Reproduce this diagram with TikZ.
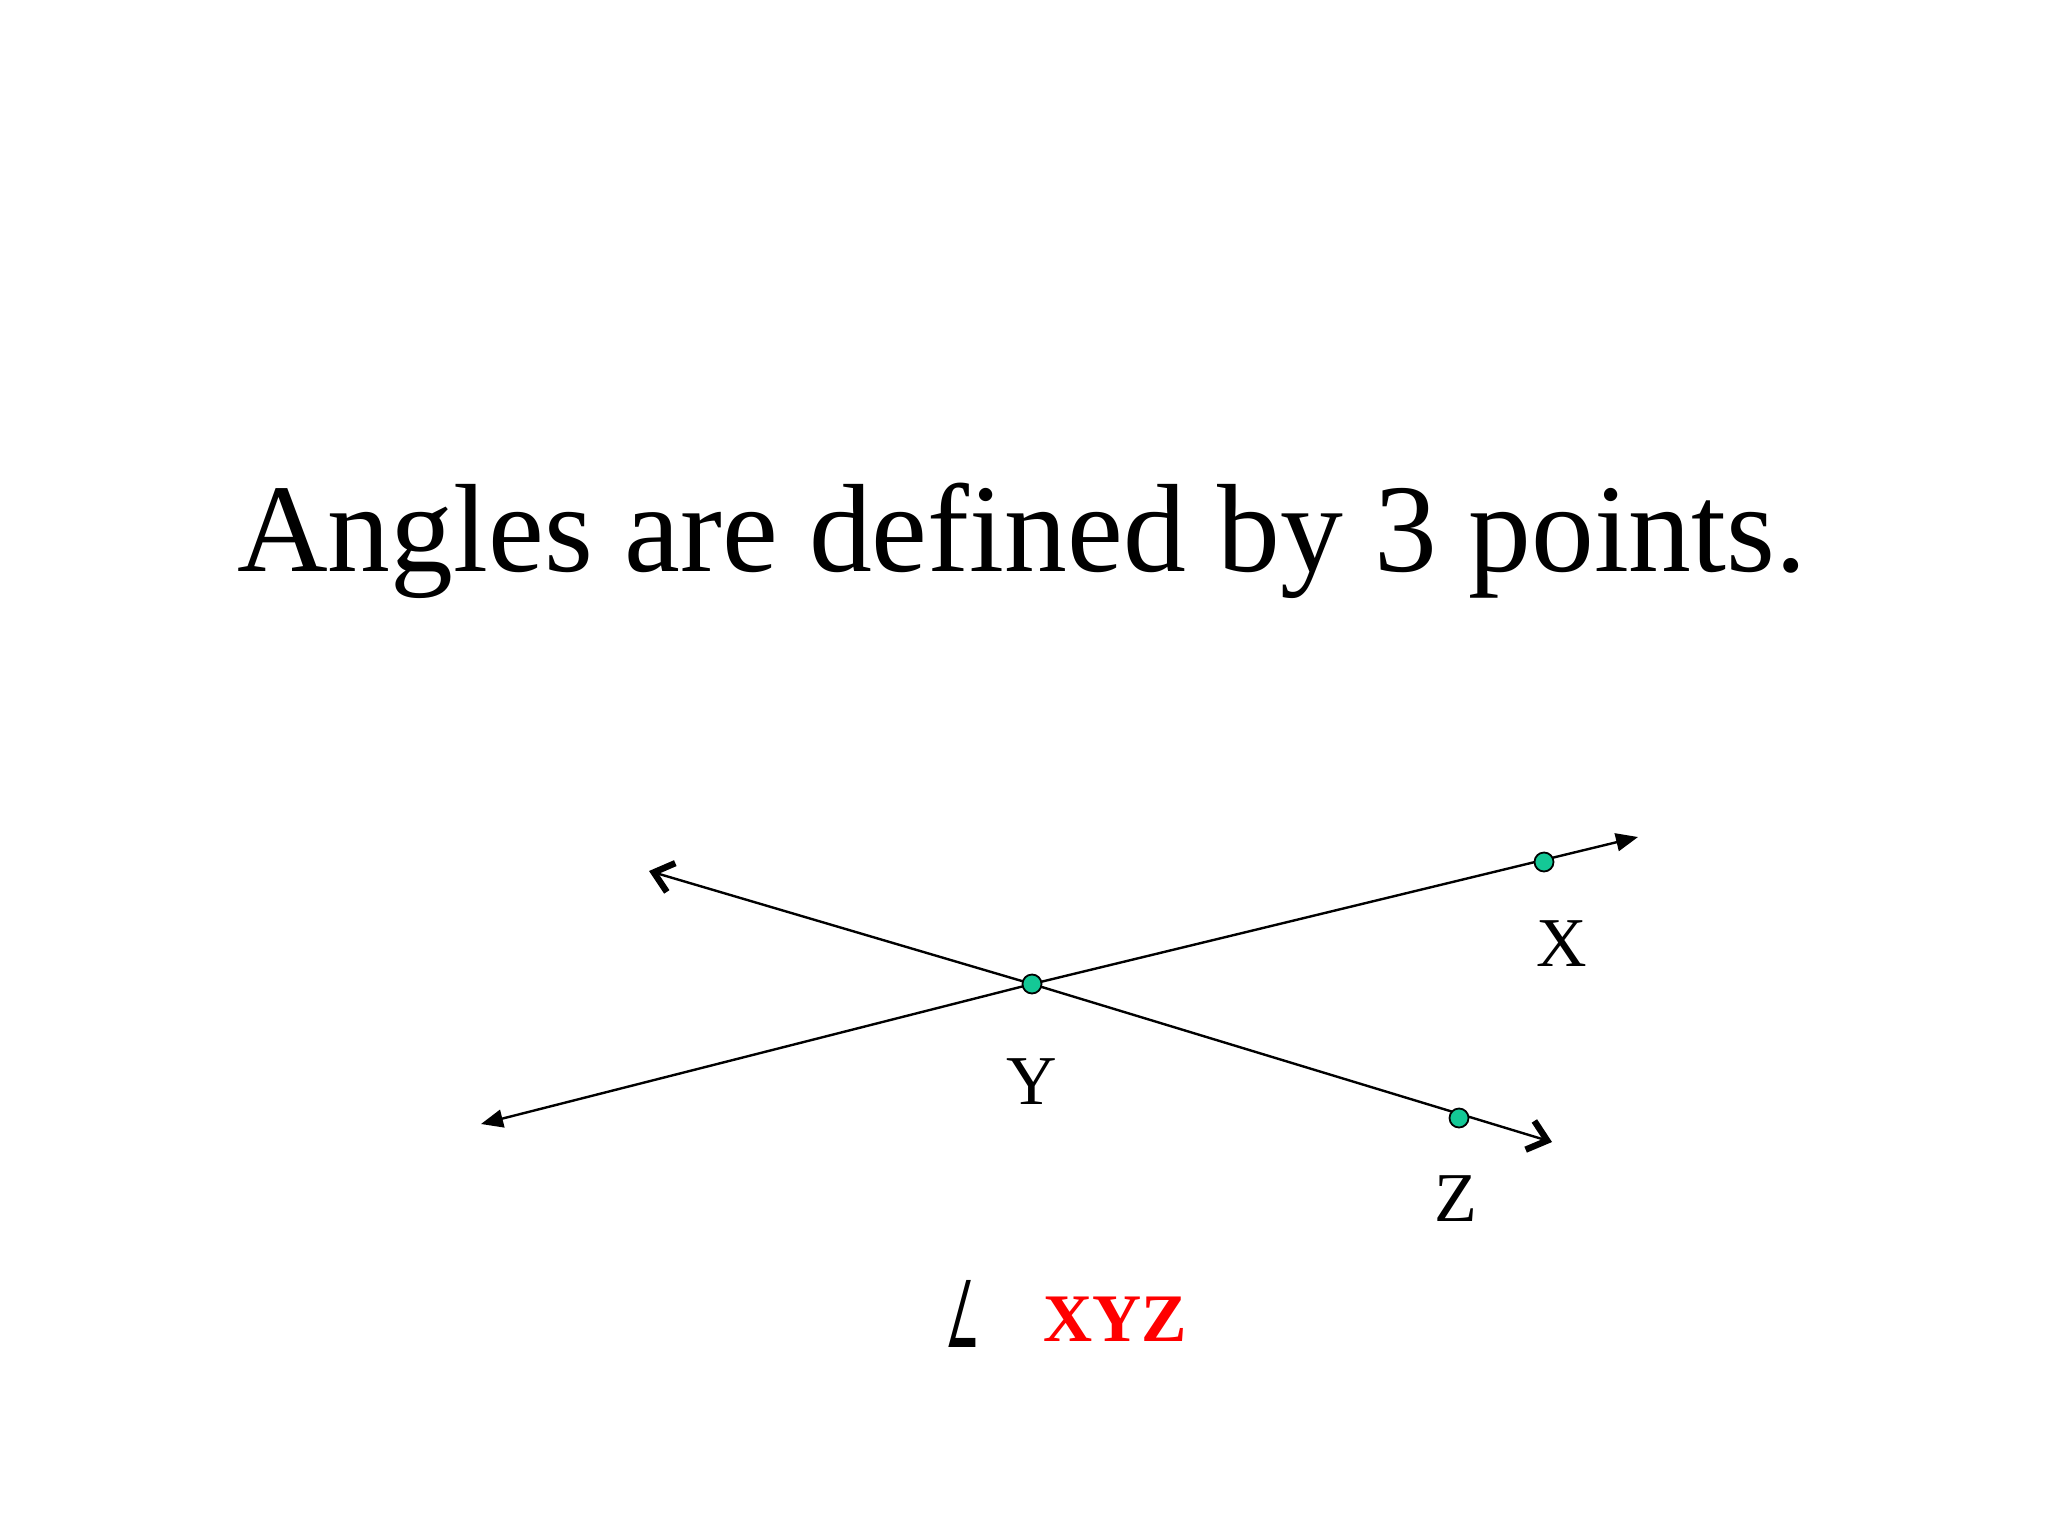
\documentclass[tikz,border=0pt]{standalone}
\usepackage{fontspec}
\setmainfont{Liberation Serif}
\newfontfamily\symfont{DejaVu Sans}
\usetikzlibrary{arrows.meta}
\definecolor{ptgreen}{RGB}{20,200,150}
\definecolor{xyzred}{RGB}{255,0,0}
\tikzset{
  ray/.style={line width=1.2pt, black},
  pt/.style={circle, draw=black, line width=0.9pt, fill=ptgreen, minimum size=9.5pt, inner sep=0pt},
  lbl/.style={inner sep=0pt, anchor=base, font=\fontsize{35}{40}\selectfont},
  openhead/.style={-{Straight Barb[length=9pt,width=15pt,line width=3.2pt]}},
  filledhead/.style={-{Triangle[length=11pt,width=9pt]}}
}
\begin{document}
\begin{tikzpicture}[x=0.5pt,y=-0.5pt]
\useasboundingbox (0,0) rectangle (2048,1536);
\node[inner sep=0pt, anchor=base, font=\fontsize{62.8}{70}\selectfont] (title) at (1022,571) {Angles are defined by 3 points.};
% points
\coordinate (Yc) at (1032,984);
\coordinate (Xc) at (1544,862);
\coordinate (Zc) at (1459,1118);
\coordinate (L1a) at (481,1124);
\coordinate (L1b) at (1638,837);
\coordinate (L2a) at (649,871);
\coordinate (L2b) at (1552,1142);
\draw[ray, filledhead] (Yc) -- (L1a);
\draw[ray, filledhead] (Yc) -- (L1b);
\draw[ray, openhead] (Yc) -- (L2a);
\draw[ray, openhead] (Yc) -- (L2b);
\node[pt] (Y) at (Yc) {};
\node[pt] (X) at (Xc) {};
\node[pt] (Z) at (Zc) {};
\node[lbl] (Xl) at (1562,966) {X};
\node[lbl] (Yl) at (1032,1104) {Y};
\node[lbl] (Zl) at (1456,1221) {Z};
\node[inner sep=0pt, anchor=south] (ang) at (963,1348) {\scalebox{0.42}[1]{\fontsize{46}{50}\symfont ∠}};
\node[inner sep=0pt, anchor=base, text=xyzred, font=\fontsize{34}{40}\selectfont\bfseries] (xyz) at (1115,1341) {XYZ};
\end{tikzpicture}
\end{document}
